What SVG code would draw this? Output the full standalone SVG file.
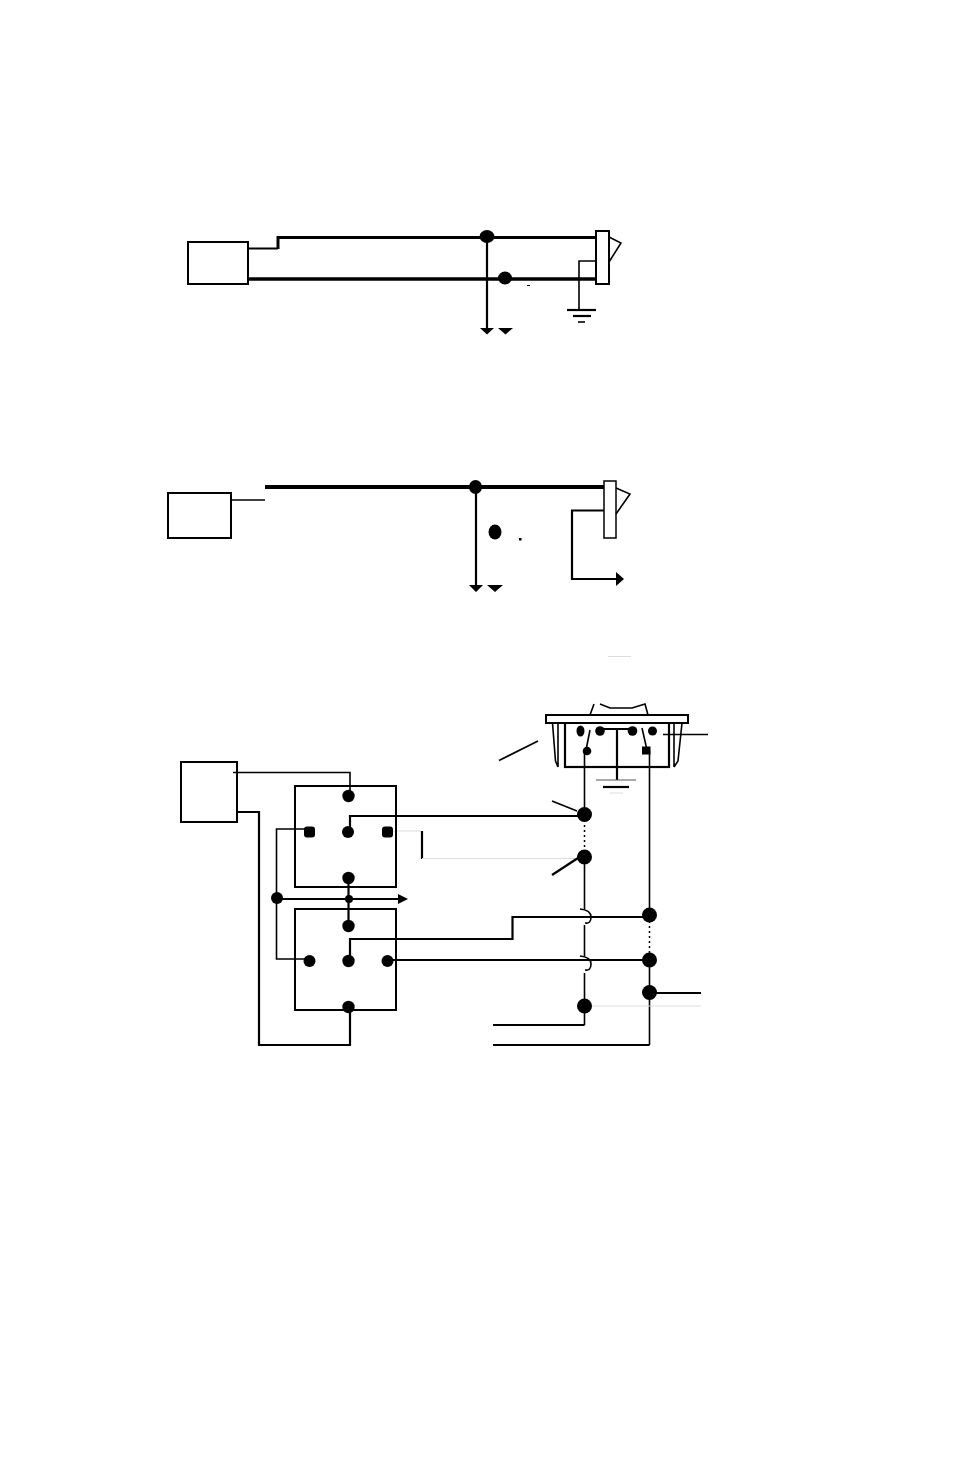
<svg xmlns="http://www.w3.org/2000/svg" width="954" height="1475" viewBox="0 0 954 1475">
<style>
.box{fill:#fff;stroke:#000;stroke-width:2}
.w1{fill:none;stroke:#000;stroke-width:1.6}
.w2{fill:none;stroke:#000;stroke-width:2.2}
.w3{fill:none;stroke:#000;stroke-width:3.5}
.g{fill:none;stroke:#ddd;stroke-width:1}
.dot{fill:none;stroke:#000;stroke-width:1.5;stroke-dasharray:2 3}
.f{fill:#000}
</style>
<rect width="954" height="1475" fill="#fff"/>
<g id="unit-1"><rect class="box" x="188" y="242" width="60" height="42"/></g>
<g id="unit-2"><rect class="box" x="168" y="493" width="63" height="45"/></g>
<g id="unit-3"><rect class="box" x="181" y="762" width="56" height="60"/></g>
<g id="connectors">
<path class="w1" d="M248 248.500H278" style="stroke-width:2"/>
<path class="w3" d="M278 249V237.500H596" style="stroke-width:3"/>
<path class="w3" d="M248 279H596"/>
<path class="w2" d="M487 237V329"/>
<path class="w1" d="M596 261H579V310"/>
<path class="w1" d="M231 500H265"/>
<path class="w3" d="M265 487H604" style="stroke-width:4"/>
<path class="w2" d="M476 487V586"/>
<path class="w2" d="M604 510.500H572V579H617"/>
<path class="w1" d="M233 772.500H350V796"/>
<path class="w2" d="M237 812H259V1045H350V1007"/>
<path class="w2" d="M350 832V816H584"/>
<path class="w1" d="M310 829H276.500V959H305"/>
<path class="w2" d="M348.500 878V926"/>
<path class="w2" d="M277 899H398"/>
<path class="g" d="M392 831H421"/>
<path class="w2" d="M422 831V859"/>
<path class="g" d="M422 858.500H584"/>
<path class="w2" d="M350 961V939H512.500V917H649"/>
<path class="w2" d="M387 960H649"/>
<path class="w1" d="M584.500 751V814M584.500 857V909M584.500 925V956M584.500 973V1025"/>
<path class="w2" d="M584.500 1025H493"/>
<path class="w1" d="M580 909Q591 910 591 917T585 923M580 956Q591 957 591 964T585 970"/>
<path class="dot" d="M584.500 820V852M649.500 921V955"/>
<path class="w1" d="M649.500 751V915M649.500 960V1045"/>
<path class="w2" d="M649.500 1045H493"/>
<path class="w2" d="M649.500 993H701"/>
<path class="g" d="M584.500 1006H701"/>
<path class="w1" d="M552 801L577 811"/>
<path class="w2" d="M552 875L578 858"/>
<path class="w1" d="M499 760.500L538 741"/>
<path class="w1" d="M663 734.500H708"/>
<path class="g" d="M608 656.500H631"/>
</g>
<g id="junctions-1">
<ellipse class="f" cx="487" cy="236.500" rx="7.500" ry="6.500"/>
<ellipse class="f" cx="505" cy="278" rx="7" ry="6.500"/>
<path class="f" d="M480 328H494L487 334.500ZM498 328H513L505.500 334.500Z"/>
<rect class="f" x="527" y="285" width="3" height="1"/>
</g>
<g id="connector-1">
<rect class="box" x="596" y="231" width="13" height="53"/>
<path class="w1" d="M609 237L621 243L609 262"/>
</g>
<g id="ground-1">
<path class="w2" d="M567 310H596"/>
<path class="w2" d="M573 316H591"/>
<path class="w1" d="M578 322H585"/>
</g>
<g id="junctions-2">
<ellipse class="f" cx="475.500" cy="487" rx="6.500" ry="7"/>
<ellipse class="f" cx="495" cy="532" rx="6.500" ry="7.500"/>
<rect class="f" x="519" y="538" width="2.500" height="2.500"/>
<path class="f" d="M469 585H483L476 592ZM487 585H503L495 592Z"/>
<path class="f" d="M616 572L624 579L616 586Z"/>
</g>
<g id="connector-2">
<rect class="box" x="604" y="481" width="12" height="57" style="stroke-width:1.500"/>
<path class="w1" d="M616 488L630 494L616 514"/>
</g>
<g id="switch-top">
<path class="w1" d="M590 715L594 704M600 704L610 708H632L645 704L648 715"/>
<rect x="565" y="721" width="104" height="46" fill="none" stroke="#000" stroke-width="2.200"/>
<rect class="box" x="546" y="715" width="142" height="8"/>
<path class="w1" d="M552.500 723L555.500 761L558 767M558 723V767M682 723L678 761L674 767M674 723V767"/>
<ellipse class="f" cx="580.500" cy="731" rx="4" ry="5.500"/>
<circle class="f" cx="600" cy="731" r="4.800"/>
<circle class="f" cx="632.500" cy="731" r="4.800"/>
<circle class="f" cx="652.500" cy="731" r="4.500"/>
<path class="w2" d="M600 729H632M617 729V780"/>
<path class="w1" d="M590 730L586 750M642 728L647 750"/>
<circle class="f" cx="587" cy="751" r="4.300"/>
<rect class="f" x="642" y="746.500" width="8.500" height="8"/>
<path class="g" d="M596 780H636" style="stroke:#555"/>
<path class="w2" d="M603 787H629"/>
<path class="g" d="M610 793H623"/>
</g>
<g id="switch-a">
<rect class="box" x="295" y="786" width="101" height="101" style="fill:none"/>
<circle class="f" cx="348.500" cy="796" r="6.200"/>
<rect class="f" x="304" y="826.500" width="11" height="11" rx="3"/>
<circle class="f" cx="348" cy="832" r="6"/>
<rect class="f" x="382" y="826.500" width="11" height="11" rx="3"/>
<circle class="f" cx="348.500" cy="878" r="6.200"/>
</g>
<g id="switch-b">
<rect class="box" x="295" y="909" width="101" height="101" style="fill:none"/>
<circle class="f" cx="348.500" cy="926" r="6.200"/>
<circle class="f" cx="309.500" cy="961" r="6"/>
<circle class="f" cx="348.500" cy="961" r="6.200"/>
<circle class="f" cx="387.500" cy="961" r="6"/>
<circle class="f" cx="348.500" cy="1007" r="6.200"/>
</g>
<g id="bus-junctions">
<circle class="f" cx="277" cy="898" r="6"/>
<circle class="f" cx="349" cy="899" r="4"/>
<path class="f" d="M398 894L408 899L398 904Z"/>
</g>
<g id="terminals">
<circle class="f" cx="584.500" cy="814.500" r="7.500"/>
<circle class="f" cx="584.500" cy="857" r="7.500"/>
<circle class="f" cx="649.500" cy="915" r="7.500"/>
<circle class="f" cx="649.500" cy="960" r="7.500"/>
<circle class="f" cx="649.500" cy="992.500" r="7.500"/>
<circle class="f" cx="584.500" cy="1006" r="7.500"/>
</g>
</svg>
